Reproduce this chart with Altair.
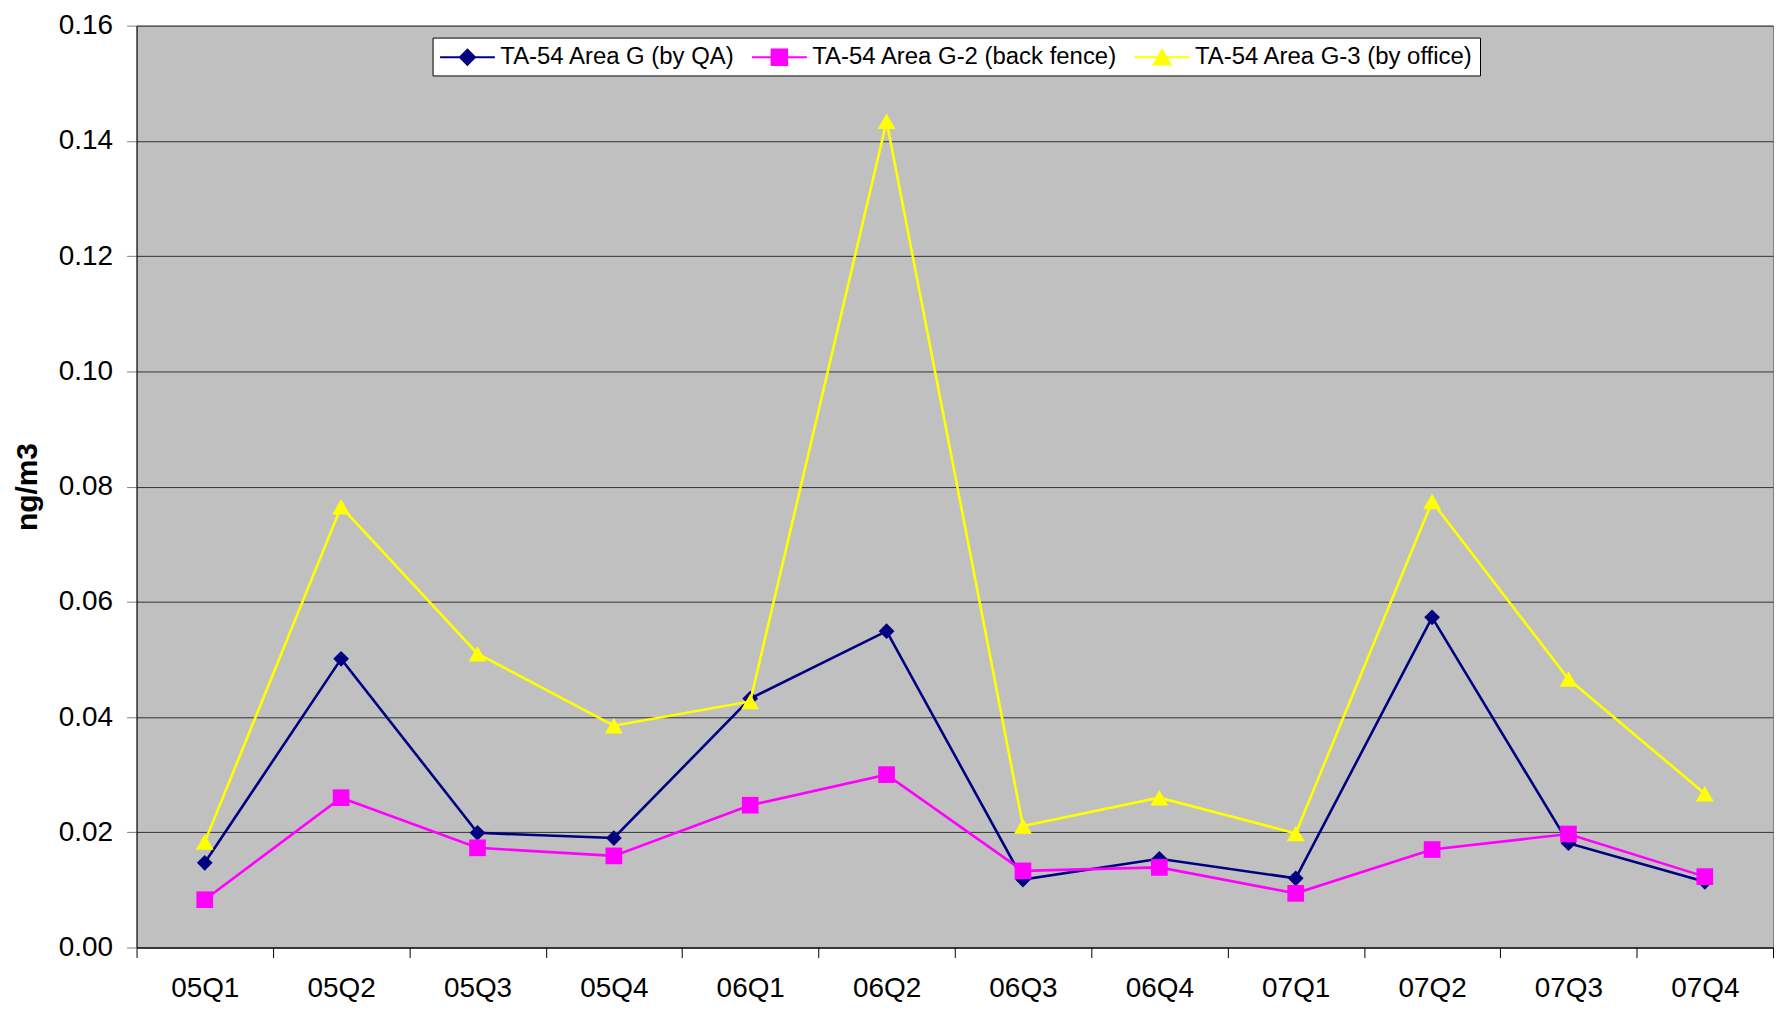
import altair as alt
import pandas as pd

# ---------------- data ----------------
quarters = ["05Q1", "05Q2", "05Q3", "05Q4", "06Q1", "06Q2",
            "06Q3", "06Q4", "07Q1", "07Q2", "07Q3", "07Q4"]
series_names = ["TA-54 Area G (by QA)",
                "TA-54 Area G-2 (back fence)",
                "TA-54 Area G-3 (by office)"]
area_g = [0.0147, 0.0501, 0.0199, 0.0190, 0.0432, 0.0549,
          0.0118, 0.0154, 0.0120, 0.0573, 0.0181, 0.0114]
area_g2 = [0.0083, 0.0260, 0.0173, 0.0159, 0.0247, 0.0300,
           0.0133, 0.0139, 0.0094, 0.0170, 0.0197, 0.0123]
area_g3 = [0.0183, 0.0765, 0.0510, 0.0385, 0.0427, 0.1434,
           0.0211, 0.0260, 0.0198, 0.0774, 0.0466, 0.0267]
y_ticks = [0.00, 0.02, 0.04, 0.06, 0.08, 0.10, 0.12, 0.14, 0.16]

# ---------------- styles ----------------
series_colors = ["#000080", "#FF00FF", "#FFFF00"]
marker_shapes = ["diamond", "square", "triangle-up"]
marker_sizes = [250, 280, 320]
# legend symbols: a line with the series marker; 1 unit = 12 px (symbolSize 576)
legend_symbols = [
    "M-2.29,0H2.29M0,-0.62L0.62,0L0,0.62L-0.62,0Z",
    "M-2.29,0H2.29M-0.64,-0.64H0.64V0.64H-0.64Z",
    "M-2.29,0H2.29M0,-0.6L0.68,0.6H-0.68Z",
]
FONT = "Liberation Sans"

rows = []
for name, vals in zip(series_names, [area_g, area_g2, area_g3]):
    for q, v in zip(quarters, vals):
        rows.append({"quarter": q, "series": name, "value": v})
df = pd.DataFrame(rows)

x_enc = alt.X(
    "quarter:N",
    sort=quarters,
    bandPosition=0.5,
    scale=alt.Scale(type="band", domain=quarters, paddingInner=0, paddingOuter=0),
    axis=alt.Axis(
        title=None, tickBand="extent", tickSize=10, tickColor="black", tickWidth=1,
        domainColor="black", domainWidth=1, labelFont=FONT, labelFontSize=28,
        labelColor="black", labelPadding=17, labelAngle=0, grid=False,
        labelOverlap=False,
    ),
)
y_enc = alt.Y(
    "value:Q",
    scale=alt.Scale(domain=[0, 0.16], nice=False, zero=True),
    axis=alt.Axis(
        values=y_ticks, format=".2f", title="ng/m3", titleFont=FONT,
        titleFontSize=30, titleFontWeight="bold", titleColor="black",
        titlePadding=16, labelFont=FONT, labelFontSize=28, labelColor="black",
        labelPadding=14, tickSize=10, tickColor="#808080", tickWidth=1,
        domainColor="black", domainWidth=1, grid=True, gridColor="#333333",
        gridWidth=1, labelOverlap=False,
    ),
)
# data-derived domain (sorted like series_names) so that this hidden colour
# legend is not merged with the visible legend below
color_enc = alt.Color(
    "series:N", sort=series_names, scale=alt.Scale(range=series_colors), legend=None
)

base = alt.Chart(df)
layers = []
for name, shape, size in zip(series_names, marker_shapes, marker_sizes):
    sub = base.transform_filter(alt.datum.series == name)
    layers.append(
        sub.mark_line(strokeWidth=2.6).encode(x=x_enc, y=y_enc, color=color_enc)
    )
    layers.append(
        sub.mark_point(filled=True, shape=shape, size=size, opacity=1).encode(
            x=x_enc, y=y_enc, color=color_enc
        )
    )

legend_def = alt.Legend(
    orient="none", legendX=297, legendY=12, direction="horizontal", title=None,
    fillColor="white", strokeColor="black", padding=6, columnPadding=12,
    labelFont=FONT, labelFontSize=24, labelColor="black",
    symbolOffset=15.5, labelOffset=19.5,
    labelLimit=0, symbolSize=576, symbolStrokeWidth=2.2, symbolOpacity=1,
)
legend_layer = base.mark_point(filled=True, opacity=0).encode(
    x=x_enc,
    y=y_enc,
    fill=alt.Fill("series:N", scale=alt.Scale(domain=series_names, range=series_colors), legend=legend_def),
    stroke=alt.Stroke("series:N", scale=alt.Scale(domain=series_names, range=series_colors), legend=legend_def),
    shape=alt.Shape("series:N", scale=alt.Scale(domain=series_names, range=legend_symbols), legend=legend_def),
)

chart = (
    alt.layer(*layers, legend_layer)
    .properties(
        width=1642,
        height=925,
        padding={"left": 129, "top": 16, "right": 3, "bottom": 56},
        autosize=alt.AutoSizeParams(type="none"),
        background="white",
    )
    .configure_view(fill="#C0C0C0", stroke="#808080", strokeWidth=1)
)

chart.save("out.html", embed_options={"renderer": "svg", "actions": False})
